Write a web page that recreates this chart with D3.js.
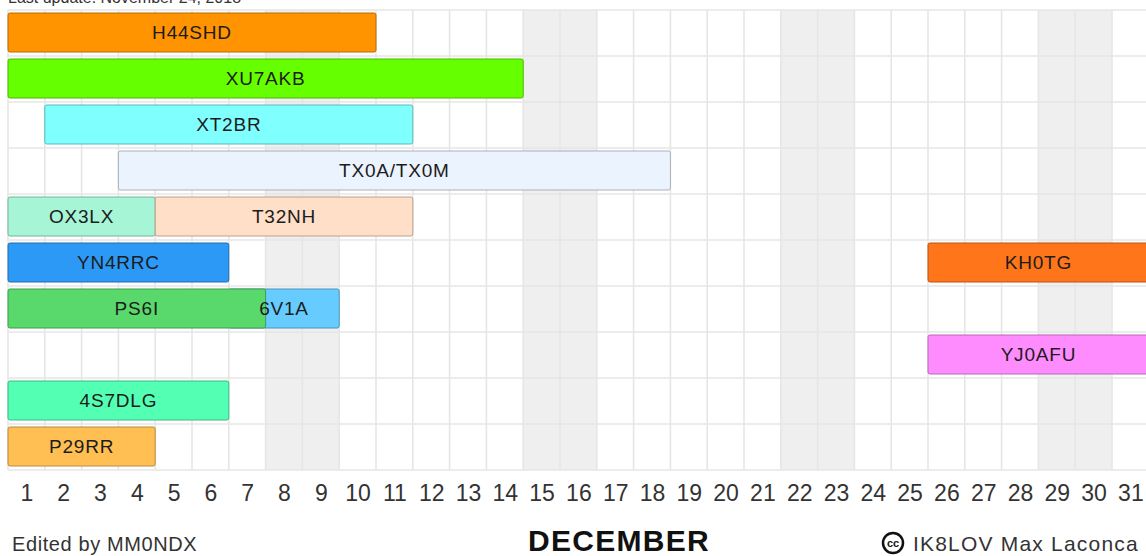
<!DOCTYPE html>
<html>
<head>
<meta charset="utf-8">
<script src="https://cdn.jsdelivr.net/npm/d3@7"></script>
<style>
  body { margin: 0; background: #fff; }
  svg { display: block; font-family: "Liberation Sans", Arial, sans-serif; }
</style>
</head>
<body>
<div id="chart"></div>
<script>
// --------------- Data --------------- //

// December 2018 expeditions (days inclusive)
const calls    = ["6V1A", "H44SHD", "XU7AKB", "XT2BR", "TX0A/TX0M", "OX3LX", "T32NH", "YN4RRC", "KH0TG", "PS6I", "YJ0AFU", "4S7DLG", "P29RR"];
const rows     = [6, 0, 1, 2, 3, 4, 4, 5, 5, 6, 7, 8, 9];
const firstDay = [7, 1, 1, 2, 4, 1, 5, 1, 26, 1, 26, 1, 1];
const lastDay  = [9, 10, 14, 11, 18, 4, 11, 6, 31, 7, 31, 6, 4];
const colors   = ["#66ccff", "#ff9400", "#66ff00", "#80ffff", "#ebf3ff", "#a6f5d6", "#ffdfc7", "#2b99f5", "#ff751a", "#59d96b", "#ff8cff", "#52ffb3", "#ffbf52"];

const days = d3.range(1, 32);
const weekendDays = [8, 9, 15, 16, 22, 23, 29, 30];
const nRows = 10;

// --------------- Basic Setup --------------- //

const width = 1146,
    height = 556;

const svg = d3.select("#chart")
    .append("svg")
    .attr("width", width)
    .attr("height", height);

// day columns: domain in "day slots", 0 = start of Dec 1
const x = d3.scaleLinear()
    .domain([0, 31])
    .range([8, 8 + 31 * 36.8]);

const y = d3.scaleBand()
    .domain(d3.range(nRows))
    .range([10, 470]);

// --------------- Grid --------------- //

svg.append("g")
    .selectAll("rect")
    .data(weekendDays)
    .join("rect")
    .attr("x", d => x(d - 1))
    .attr("y", y.range()[0])
    .attr("width", x(1) - x(0))
    .attr("height", y.range()[1] - y.range()[0])
    .attr("fill", "#efefef");

const grid = svg.append("g")
    .attr("stroke", "#e6e6e6")
    .attr("stroke-width", 1.6);

grid.selectAll("line.v")
    .data(d3.range(0, 32))
    .join("line")
    .attr("class", "v")
    .attr("x1", d => x(d)).attr("x2", d => x(d))
    .attr("y1", y.range()[0]).attr("y2", y.range()[1]);

grid.selectAll("line.h")
    .data(d3.range(0, nRows + 1))
    .join("line")
    .attr("class", "h")
    .attr("x1", x(0)).attr("x2", width)
    .attr("y1", d => y.range()[0] + d * y.step())
    .attr("y2", d => y.range()[0] + d * y.step());

// --------------- Bars --------------- //

const bars = calls.map((c, i) => ({
    call: c, row: rows[i], start: firstDay[i] - 1, end: lastDay[i], color: colors[i]
}));

svg.append("g")
    .selectAll("rect")
    .data(bars)
    .join("rect")
    .attr("x", d => x(d.start))
    .attr("y", d => y(d.row) + 3)
    .attr("width", d => x(d.end) - x(d.start))
    .attr("height", y.bandwidth() - 7)
    .attr("rx", 2)
    .attr("fill", d => d.color)
    .attr("stroke", d => d3.color(d.color).darker(0.9))
    .attr("stroke-width", 1);

svg.append("g")
    .selectAll("text")
    .data(bars)
    .join("text")
    .attr("x", d => x((d.start + d.end) / 2))
    .attr("y", d => y(d.row) + 3 + (y.bandwidth() - 7) / 2)
    .attr("dy", "0.35em")
    .attr("text-anchor", "middle")
    .attr("font-size", 19)
    .attr("letter-spacing", 0.8)
    .attr("fill", "#1c1c1c")
    .text(d => d.call);

// --------------- Axis & Labels --------------- //

const axis = svg.append("g")
    .attr("transform", "translate(0,485)")
    .call(d3.axisBottom(x)
        .tickValues(days.map(d => d - 0.5))
        .tickFormat((d, i) => days[i])
        .tickSize(0)
        .tickPadding(0));

axis.select(".domain").remove();
axis.selectAll("text")
    .attr("font-family", "'Liberation Sans Narrow', 'Liberation Sans', Arial, sans-serif")
    .attr("font-size", 23)
    .attr("fill", "#333");

svg.append("text")
    .attr("x", 8)
    .attr("y", 3)
    .attr("font-size", 16)
    .attr("fill", "#333")
    .text("Last update: November 24, 2018");

svg.append("text")
    .attr("x", 12)
    .attr("y", 551)
    .attr("font-size", 20)
    .attr("letter-spacing", 0.6)
    .attr("fill", "#333")
    .text("Edited by MM0NDX");

svg.append("text")
    .attr("x", 619)
    .attr("y", 551)
    .attr("text-anchor", "middle")
    .attr("font-size", 30)
    .attr("font-weight", "bold")
    .attr("letter-spacing", 1.3)
    .attr("fill", "#111")
    .text("DECEMBER");

// creative commons badge
const cc = svg.append("g").attr("transform", "translate(893,543)");
cc.append("circle")
    .attr("r", 10)
    .attr("fill", "#fff")
    .attr("stroke", "#111")
    .attr("stroke-width", 2.5);
cc.append("text")
    .attr("text-anchor", "middle")
    .attr("dy", "0.35em")
    .attr("font-size", 11)
    .attr("font-weight", "bold")
    .attr("fill", "#111")
    .text("cc");

svg.append("text")
    .attr("x", 913)
    .attr("y", 551)
    .attr("font-size", 21)
    .attr("letter-spacing", 1.2)
    .attr("fill", "#333")
    .text("IK8LOV Max Laconca");
</script>
</body>
</html>
